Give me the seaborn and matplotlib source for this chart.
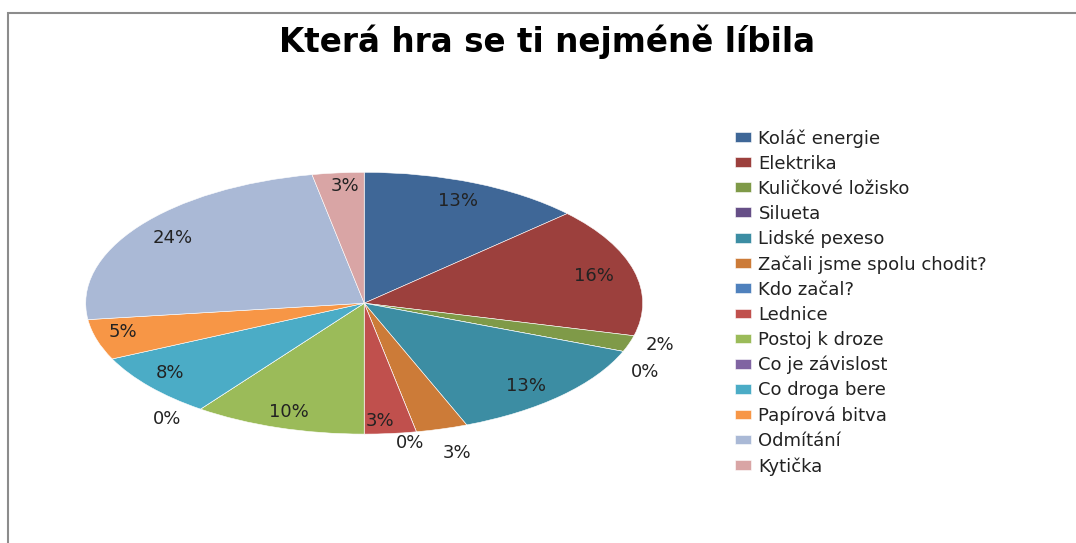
import matplotlib
matplotlib.use("Agg")
import matplotlib.pyplot as plt
import seaborn as sns
import numpy as np
from matplotlib.patches import Rectangle

# ---- data ----
categories = ["Koláč energie", "Elektrika", "Kuličkové ložisko", "Silueta",
              "Lidské pexeso", "Začali jsme spolu chodit?", "Kdo začal?",
              "Lednice", "Postoj k droze", "Co je závislost", "Co droga bere",
              "Papírová bitva", "Odmítání", "Kytička"]
percent = [13, 16, 2, 0, 13, 3, 0, 3, 10, 0, 8, 5, 24, 3]
title = "Která hra se ti nejméně líbila"

# ---- style ----
colors = ["#3F6797", "#9C403D", "#7F9A48", "#664F87", "#3C8DA3", "#CC7B38",
          "#4F81BD", "#C0504D", "#9BBB59", "#8064A2", "#4BACC6", "#F79646",
          "#AAB9D6", "#D9A5A5"]
label_r = [0.85, 0.85, 1.11, 1.14, 0.86, 1.19, 1.08, 0.90, 0.876, 1.13, 0.88, 0.895, 0.85, 0.90]
label_shift = [0, 0, -1.3, 6, 2.4, 0, 2, 1.7, 0, 2.7, 2, 2, 0, 1]  # clockwise degrees

sns.set_theme(style="white")
plt.rcParams['font.family'] = ['DejaVu Sans']
palette = sns.color_palette(colors)

W, H = 1076, 543
fig = plt.figure(figsize=(W / 100, H / 100), dpi=100)

cx, cy, rx, ry = 364.2, 303.2, 278.5, 130.9
ax = fig.add_axes([(cx - rx) / W, (H - cy - ry) / H, 2 * rx / W, 2 * ry / H])
wedges, _ = ax.pie(percent, colors=palette, startangle=90, counterclock=False,
                   wedgeprops=dict(edgecolor="white", linewidth=0.4))
ax.set_aspect("auto")
ax.set_xlim(-1, 1)
ax.set_ylim(-1, 1)
ax.axis("off")

for w, p, r, s in zip(wedges, percent, label_r, label_shift):
    ang = np.deg2rad((w.theta1 + w.theta2) / 2 - s)
    ax.text(r * np.cos(ang), r * np.sin(ang), f"{p}%", ha="center", va="center",
            fontsize=13, color="#222222", clip_on=False)

fig.text(547.5 / W, 1 - 42 / H, title, ha="center", va="center",
         fontsize=23.5, fontweight="bold", color="black")

leg = fig.legend(wedges, categories, loc="upper left",
                 bbox_to_anchor=(735 / W, 1 - 129 / H), frameon=False,
                 fontsize=13, handlelength=0.9, handleheight=0.45,
                 handletextpad=0.4, labelspacing=0.39, borderpad=0,
                 borderaxespad=0)
for t in leg.get_texts():
    t.set_color("#222222")

# outer chart frame (left and top edges visible)
fig.patches.append(Rectangle((8 / W, -0.1), 1.2, 1 - 13 / H + 0.1,
                             transform=fig.transFigure, fill=False,
                             edgecolor="#8C8C8C", linewidth=1.5, clip_on=False))

fig.savefig("out.png", dpi=100)
